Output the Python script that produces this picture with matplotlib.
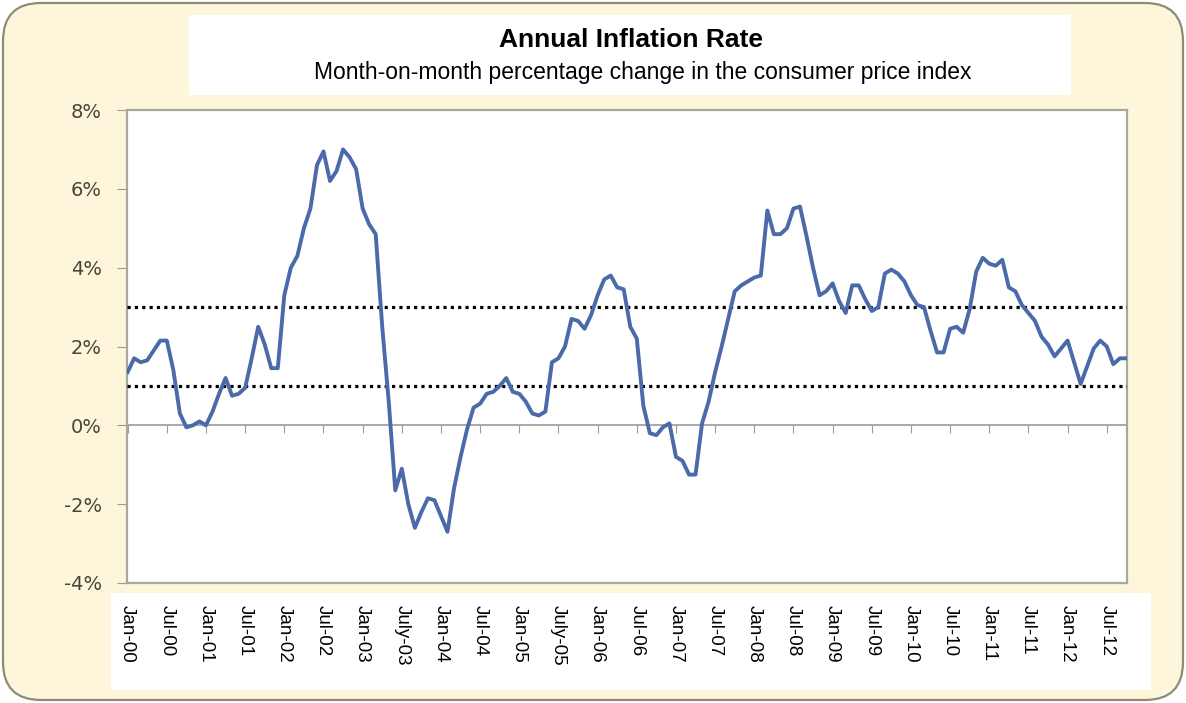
import matplotlib
matplotlib.use("Agg")
import matplotlib.pyplot as plt
from matplotlib.patches import FancyBboxPatch, Rectangle
from matplotlib.ticker import FixedLocator, FuncFormatter

# monthly annual inflation rate (%), Jan 2000 .. Oct 2012
inflation = [
    1.35, 1.7, 1.6, 1.65, 1.9, 2.15, 2.15, 1.4, 0.3, -0.05, 0.0, 0.1,
    0.0, 0.35, 0.8, 1.2, 0.75, 0.8, 0.95, 1.7, 2.5, 2.05, 1.45, 1.45,
    3.3, 4.0, 4.3, 5.0, 5.5, 6.6, 6.95, 6.2, 6.45, 7.0, 6.8, 6.5,
    5.5, 5.1, 4.85, 2.5, 0.6, -1.65, -1.1, -2.0, -2.6, -2.2, -1.85, -1.9,
    -2.3, -2.7, -1.6, -0.8, -0.1, 0.45, 0.55, 0.8, 0.85, 1.0, 1.2, 0.85,
    0.8, 0.6, 0.3, 0.25, 0.35, 1.6, 1.7, 2.0, 2.7, 2.65, 2.45, 2.8,
    3.3, 3.7, 3.8, 3.5, 3.45, 2.5, 2.2, 0.5, -0.2, -0.25, -0.05, 0.05,
    -0.8, -0.9, -1.25, -1.25, 0.05, 0.6, 1.35, 2.0, 2.7, 3.4, 3.55, 3.65,
    3.75, 3.8, 5.45, 4.85, 4.85, 5.0, 5.5, 5.55, 4.8, 4.0, 3.3, 3.4,
    3.6, 3.15, 2.85, 3.55, 3.55, 3.2, 2.9, 3.0, 3.85, 3.95, 3.85, 3.65,
    3.3, 3.05, 3.0, 2.4, 1.85, 1.85, 2.45, 2.5, 2.35, 2.95, 3.9, 4.25,
    4.1, 4.05, 4.2, 3.5, 3.4, 3.05, 2.85, 2.65, 2.25, 2.05, 1.75, 1.95,
    2.15, 1.6, 1.05, 1.5, 1.95, 2.15, 2.0, 1.55, 1.7, 1.7,
]
tick_labels = [
    "Jan-00", "Jul-00", "Jan-01", "Jul-01", "Jan-02", "Jul-02", "Jan-03",
    "July-03", "Jan-04", "Jul-04", "Jan-05", "July-05", "Jan-06", "Jul-06",
    "Jan-07", "Jul-07", "Jan-08", "Jul-08", "Jan-09", "Jul-09", "Jan-10",
    "Jul-10", "Jan-11", "Jul-11", "Jan-12", "Jul-12",
]
target_band = [1, 3]
y_ticks = [-4, -2, 0, 2, 4, 6, 8]

W, H = 1186, 703
fig = plt.figure(figsize=(W / 100, H / 100), dpi=100, facecolor="white")

# background panel in pixel units
bg = fig.add_axes([0, 0, 1, 1])
bg.set_xlim(0, W)
bg.set_ylim(H, 0)
bg.axis("off")
bg.add_patch(FancyBboxPatch((3, 3), W - 6, H - 6,
                            boxstyle="round,pad=0,rounding_size=38",
                            facecolor="#FDF6DA", edgecolor="#8E8C78", lw=1.6))
bg.add_patch(Rectangle((189, 15), 882, 80, facecolor="white", edgecolor="none"))
bg.add_patch(Rectangle((111, 593), 1040, 97, facecolor="white", edgecolor="none"))
bg.text(631, 40, "Annual Inflation Rate", ha="center", va="center",
        fontsize=19, fontweight="bold", family="Liberation Sans")
bg.text(643, 73, "Month-on-month percentage change in the consumer price index",
        ha="center", va="center", fontsize=16.5, family="Liberation Sans")

ax = fig.add_axes([127 / W, 1 - 583 / H, 1000 / W, 473 / H])
months = list(range(len(inflation)))
ax.plot(months, inflation, color="#4A6AAA", lw=2.8, solid_joinstyle="round", zorder=4)
for lvl in target_band:
    ax.axhline(lvl, color="black", lw=2.3, linestyle=(0, (1, 1.3)), zorder=3)
ax.axhline(0, color="#9A9A9A", lw=1.2, zorder=2)

ax.set_xlim(-0.1, len(inflation) - 0.9)
ax.set_ylim(-4, 8)
ax.set_yticks(y_ticks)
ax.yaxis.set_major_formatter(FuncFormatter(lambda v, p: f"{v:.0f}%"))
ax.tick_params(axis="y", direction="out", length=7, color="#9A9A9A", pad=11,
               labelsize=14, labelcolor="#45453A")
for lab in ax.get_yticklabels():
    lab.set_family("DejaVu Sans")

tick_pos = list(range(0, len(inflation), 6))[:len(tick_labels)]
ax.set_xticks(tick_pos)
ax.set_xticklabels(tick_labels, rotation=-90, family="Liberation Sans",
                   fontsize=13.5, va="top", ha="center")
ax.tick_params(axis="x", length=0, pad=16)

# small tick marks on the zero line
zero_axis = ax.secondary_xaxis(1 / 3)
zero_axis.xaxis.set_major_locator(FixedLocator(tick_pos))
zero_axis.tick_params(axis="x", direction="out", length=6, color="#9A9A9A",
                      labelbottom=False, labeltop=False)
zero_axis.spines[:].set_visible(False)
zero_axis.set_xticklabels([])
zero_axis.xaxis.set_ticks_position("bottom")

for sp in ax.spines.values():
    sp.set_color("#A8A8A0")
    sp.set_linewidth(1.6)

fig.savefig("out.png", dpi=100, facecolor="white")
